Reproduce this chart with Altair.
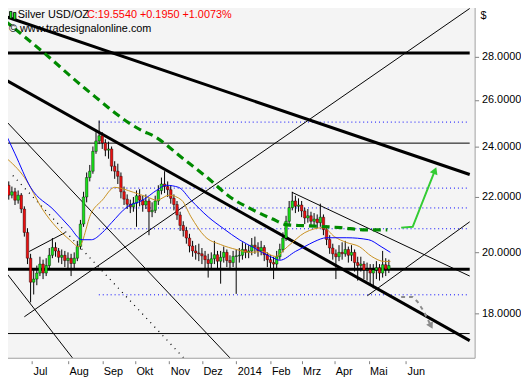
import altair as alt
import pandas as pd

# ---------------- data ----------------
# candles: one candle per 2 trading bars, bar 0 = 1 Jul 2013
first_bar = -17
bar_step = 2
first_open = 22.60
close = [22.45, 22.07, 22.20, 21.88, 22.07, 21.55, 20.70, 19.80, 19.00, 19.10,
         19.30, 19.60, 19.30, 19.55, 19.90, 20.17, 20.05, 19.83, 19.90, 19.72,
         19.80, 19.62, 19.80, 20.20, 21.00, 22.00, 22.75, 23.00, 23.80, 24.23,
         24.45, 24.15, 23.85, 23.90, 23.20, 23.00, 22.80, 22.20, 21.92, 21.73,
         21.63, 21.77, 22.05, 21.88, 21.70, 21.85, 21.45, 21.50, 21.85, 22.25,
         22.50, 22.40, 22.28, 21.95, 21.72, 21.33, 20.95, 20.77, 20.50, 20.22,
         20.05, 19.98, 19.95, 19.88, 19.75, 19.62, 19.78, 19.92, 19.70, 19.83,
         20.00, 19.72, 19.65, 19.86, 19.88, 19.90, 20.10, 20.00, 20.05, 20.25,
         20.18, 20.05, 20.17, 19.92, 19.75, 19.65, 19.60, 19.85, 20.10, 20.50,
         21.10, 21.60, 21.85, 21.65, 21.70, 21.48, 21.22, 21.30, 21.10, 21.18,
         21.05, 21.25, 20.80, 20.45, 20.15, 19.95, 19.85, 20.00, 19.95, 20.10,
         19.90, 20.00, 19.65, 19.55, 19.60, 19.40, 19.42, 19.30, 19.40, 19.48,
         19.30, 19.58, 19.43, 19.55]
high = [22.75, 22.60, 22.40, 22.35, 22.25, 22.15, 21.65, 20.85, 19.95, 19.40,
        19.55, 19.85, 19.75, 19.80, 20.15, 20.50, 20.35, 20.15, 20.10, 20.05,
        20.00, 19.95, 20.00, 20.40, 21.15, 22.20, 22.95, 23.25, 24.00, 24.60,
        25.10, 24.60, 24.30, 24.20, 24.00, 23.40, 23.30, 22.95, 22.40, 22.10,
        21.90, 22.00, 22.25, 22.30, 22.05, 22.10, 21.95, 21.80, 22.05, 22.45,
        22.75, 23.00, 22.60, 22.45, 22.10, 21.85, 21.45, 21.10, 20.90, 20.65,
        20.40, 20.25, 20.30, 20.15, 20.05, 19.95, 20.00, 20.40, 20.05, 20.05,
        20.20, 20.10, 19.90, 20.05, 20.10, 20.15, 20.35, 20.30, 20.25, 20.50,
        20.55, 20.35, 20.40, 20.25, 20.00, 19.90, 19.85, 20.05, 20.30, 20.70,
        21.30, 21.85, 22.20, 22.05, 21.95, 21.85, 21.60, 21.55, 21.45, 21.40,
        21.35, 21.75, 21.35, 20.95, 20.60, 20.30, 20.10, 20.25, 20.35, 20.40,
        20.20, 20.25, 20.10, 19.85, 19.85, 19.70, 19.65, 19.60, 19.60, 19.70,
        19.60, 20.05, 19.80, 19.75]
low = [22.20, 21.90, 21.95, 21.70, 21.75, 21.40, 20.55, 19.60, 18.35, 18.60,
       18.90, 19.20, 19.10, 19.20, 19.45, 19.80, 19.85, 19.65, 19.60, 19.50,
       19.45, 19.20, 19.45, 19.70, 20.10, 20.90, 21.80, 22.60, 22.90, 23.70,
       24.10, 23.90, 23.60, 23.50, 23.00, 22.70, 22.50, 21.95, 21.70, 21.55,
       21.40, 21.45, 20.90, 21.65, 21.45, 21.55, 20.60, 21.25, 21.40, 21.70,
       22.10, 22.15, 22.00, 21.75, 21.50, 21.15, 20.75, 20.55, 20.30, 20.00,
       19.85, 19.75, 19.70, 19.60, 19.40, 19.15, 19.40, 19.60, 19.45, 18.95,
       19.65, 19.50, 19.40, 19.50, 18.62, 19.65, 19.75, 19.80, 19.80, 19.90,
       19.95, 19.85, 19.90, 19.70, 19.50, 19.40, 19.10, 19.45, 19.75, 20.00,
       20.40, 21.00, 21.50, 21.40, 21.45, 21.25, 21.00, 21.05, 20.90, 20.95,
       20.85, 20.90, 20.60, 20.25, 19.95, 19.75, 19.10, 19.70, 19.75, 19.85,
       19.65, 19.70, 19.35, 19.05, 19.35, 19.10, 19.05, 18.90, 18.80, 19.10,
       19.05, 19.15, 19.20, 19.30]

# moving averages (bar, price)
ma_fast_bar = [-17, -5, 7, 24, 30, 38, 45, 53, 65, 74, 80, 88, 96, 102, 111, 121,
               131, 140, 148, 156, 164, 175, 187, 194, 202, 210, 218, 226, 230]
ma_fast_val = [23.55, 22.76, 21.51, 20.44, 20.20, 21.41, 21.88, 22.37, 22.18, 22.00,
               21.88, 22.07, 21.88, 21.26, 20.55, 20.27, 20.10, 20.00, 20.03, 19.86,
               20.20, 20.69, 20.87, 20.55, 20.34, 20.20, 19.86, 19.69, 19.69]
ma_mid_bar = [-17, -11, -1, 14, 24, 32, 38, 45, 51, 61, 71, 80, 86, 94, 102, 113,
              123, 133, 142, 154, 159, 169, 175, 181, 189, 202, 216, 224, 230]
ma_mid_val = [24.53, 23.70, 22.37, 21.51, 20.90, 20.44, 20.44, 20.69, 21.05, 21.63,
              21.88, 22.26, 22.45, 22.37, 21.88, 21.26, 20.83, 20.44, 20.17, 19.83,
              19.73, 20.03, 20.20, 20.37, 20.51, 20.51, 20.44, 20.20, 20.00]
ma_slow_bar = [-17.4, 7, 34, 71, 78, 96, 113, 127, 142, 154, 164, 175, 198, 214, 228]
ma_slow_val = [29.80, 28.24, 26.52, 24.65, 24.44, 23.55, 22.72, 22.00, 21.51, 21.19,
               20.97, 20.94, 20.87, 20.79, 20.79]

# projections
up_bar = [236.9, 244.3, 258.6]
up_val = [20.87, 20.90, 23.03]
down_bar = [236.9, 244.3, 247.4, 251.1, 256.1]
down_val = [18.52, 18.52, 18.37, 18.09, 17.62]

# horizontal levels
thick_levels = [28.19, 19.43]
thin_levels = [24.14, 17.39]
fib_levels = [25.03, 22.34, 21.59, 20.83, 18.59]
fib_start_bar = 42.8

# trend lines (bar1, price1, bar2, price2)
thick_lines = [(-17.4, 30.03, 280.9, 22.87),
               (-17.4, 26.93, 280.9, 17.18)]
thin_lines = [(-5.0, 17.90, 280.9, 30.44),
              (215.2, 18.56, 280.9, 21.08),
              (166.8, 22.18, 280.9, 19.20),
              (-17.4, 19.36, 26.0, 16.67),
              (-17.4, 25.12, 127.1, 16.67),
              (-1.9, 20.03, 21.1, 20.69)]
dotted_lines = [(-12.4, 22.83, 97.4, 16.67)]

month_bars = [0, 23, 45, 66, 88, 109, 131, 153, 173, 194, 216, 240]
month_labels = ["Jul", "Aug", "Sep", "Okt", "Nov", "Dez", "2014", "Feb", "Mrz", "Apr", "Mai", "Jun"]
price_ticks = [18, 20, 22, 24, 26, 28]

x_min, x_max = -17.4, 280.9
y_min, y_max = 16.68, 30.75

# ---------------- build tables ----------------
bars = [first_bar + bar_step * i for i in range(len(close))]
opens = [first_open] + close[:-1]
candles = pd.DataFrame({"bar": bars, "open": opens, "close": close, "high": high, "low": low})

def seg_df(rows):
    return pd.DataFrame(rows, columns=["b1", "p1", "b2", "p2"])

thick_df = seg_df(thick_lines + [(x_min, v, x_max, v) for v in thick_levels])
thin_df = seg_df(thin_lines + [(x_min, v, x_max, v) for v in thin_levels])
dot_df = seg_df(dotted_lines)
fib_df = seg_df([(fib_start_bar, v, x_max, v) for v in fib_levels])

font = "Liberation Sans"
xs = alt.Scale(domain=[x_min, x_max], nice=False, zero=False)
ys = alt.Scale(type="log", domain=[y_min, y_max], nice=False, zero=False)
label_expr = "[" + ",".join("'%s'" % m for m in month_labels) + "][indexof([" + \
    ",".join(str(b) for b in month_bars) + "], datum.value)]"
x_axis = alt.Axis(values=month_bars, labelExpr=label_expr, tickSize=3, offset=3,
                  tickColor="#808080", labelAlign="left", labelOffset=1, labelPadding=2,
                  labelFont=font, labelFontSize=11, labelColor="black",
                  domain=False, grid=False, title=None)
y_axis = alt.Axis(orient="right", values=price_ticks, format=".4f", tickSize=4,
                  tickColor="#808080", labelPadding=3, labelFont=font, labelFontSize=11,
                  labelColor="black", domain=False, grid=False, title=None)

def X(f):
    return alt.X(f, type="quantitative", scale=xs, axis=x_axis)

def Y(f):
    return alt.Y(f, type="quantitative", scale=ys, axis=y_axis)

def segs(df, **mk):
    return alt.Chart(df).mark_rule(clip=True, **mk).encode(
        x=X("b1"), y=Y("p1"), x2="b2", y2="p2")

fib = segs(fib_df, color="#0000ff", strokeWidth=1, strokeDash=[1, 3])
thin = segs(thin_df, color="black", strokeWidth=1)
dotted = segs(dot_df, color="black", strokeWidth=1.3, strokeDash=[1, 5])
thick = segs(thick_df, color="black", strokeWidth=3)

base = alt.Chart(candles)
wicks = base.mark_rule(color="black", strokeWidth=1, clip=True).encode(
    x=X("bar"), y=Y("low"), y2="high")
bodies = base.mark_bar(width=2.6, stroke="black", strokeWidth=0.4, clip=True).encode(
    x=X("bar"), y=Y("open"), y2="close",
    color=alt.condition("datum.close >= datum.open", alt.value("#18e018"), alt.value("#e81010")))

def ma_df(b, v):
    return pd.DataFrame({"bar": b, "val": v})

ma_fast = alt.Chart(ma_df(ma_fast_bar, ma_fast_val)).mark_line(
    color="#c8901e", strokeWidth=1, interpolate="monotone", clip=True).encode(x=X("bar"), y=Y("val"))
ma_mid = alt.Chart(ma_df(ma_mid_bar, ma_mid_val)).mark_line(
    color="#0000ff", strokeWidth=1, interpolate="monotone", clip=True).encode(x=X("bar"), y=Y("val"))
ma_slow = alt.Chart(ma_df(ma_slow_bar, ma_slow_val)).mark_line(
    color="#008a00", strokeWidth=3.2, strokeDash=[8, 5], interpolate="monotone", clip=True).encode(
    x=X("bar"), y=Y("val"))

up_df = ma_df(up_bar, up_val)
up_line = alt.Chart(up_df).mark_line(color="#33cc33", strokeWidth=2, clip=True).encode(
    x=X("bar"), y=Y("val"))
up_head = alt.Chart(up_df.tail(1)).mark_point(
    shape="triangle-up", filled=True, size=70, angle=22, color="#33cc33", opacity=1).encode(
    x=X("bar"), y=Y("val"))
down_df = ma_df(down_bar, down_val)
down_line = alt.Chart(down_df).mark_line(color="#8c8c8c", strokeWidth=2, strokeDash=[4, 4],
                                         clip=True).encode(x=X("bar"), y=Y("val"))
down_head = alt.Chart(down_df.tail(1)).mark_point(
    shape="triangle-down", filled=True, size=60, angle=333, color="#8c8c8c", opacity=1).encode(
    x=X("bar"), y=Y("val"))

def label(text, x, y, color="black", align="left"):
    return alt.Chart(pd.DataFrame({"t": [text]})).mark_text(
        align=align, baseline="middle", font=font, fontSize=11, color=color).encode(
        text="t:N", x=alt.value(x), y=alt.value(y))

# the page keeps an 8px margin, so the header sits a few pixels lower than the original
texts = [label("Silver USD/OZ", 18, 13),
         label("C:19.5540 +0.1950 +1.0073%", 88, 13, color="#ff0000"),
         label("\u00a9 www.tradesignalonline.com", 9, 27),
         label("$", 487, 14)]

icon = alt.Chart(pd.DataFrame({"a": [1]})).mark_rect(
    fill="#18e018", stroke="black", strokeWidth=0.8).encode(
    x=alt.value(9.5), x2=alt.value(12), y=alt.value(9), y2=alt.value(16))
icon2 = alt.Chart(pd.DataFrame({"a": [1]})).mark_rect(
    fill="#18e018", stroke="black", strokeWidth=0.8).encode(
    x=alt.value(13.5), x2=alt.value(16), y=alt.value(10), y2=alt.value(17))

chart = alt.layer(fib, thin, dotted, thick, wicks, bodies, ma_fast, ma_mid, ma_slow,
                  up_line, up_head, down_line, down_head, icon, icon2, *texts).properties(
    width=481, height=360,
    padding={"left": -8, "top": -8, "right": 0, "bottom": 0},
    background="white",
).configure_view(fill="#f4f4f4", stroke="#a0a0a0", strokeWidth=1)

chart.save("out.html", embed_options={"renderer": "svg", "actions": False})
